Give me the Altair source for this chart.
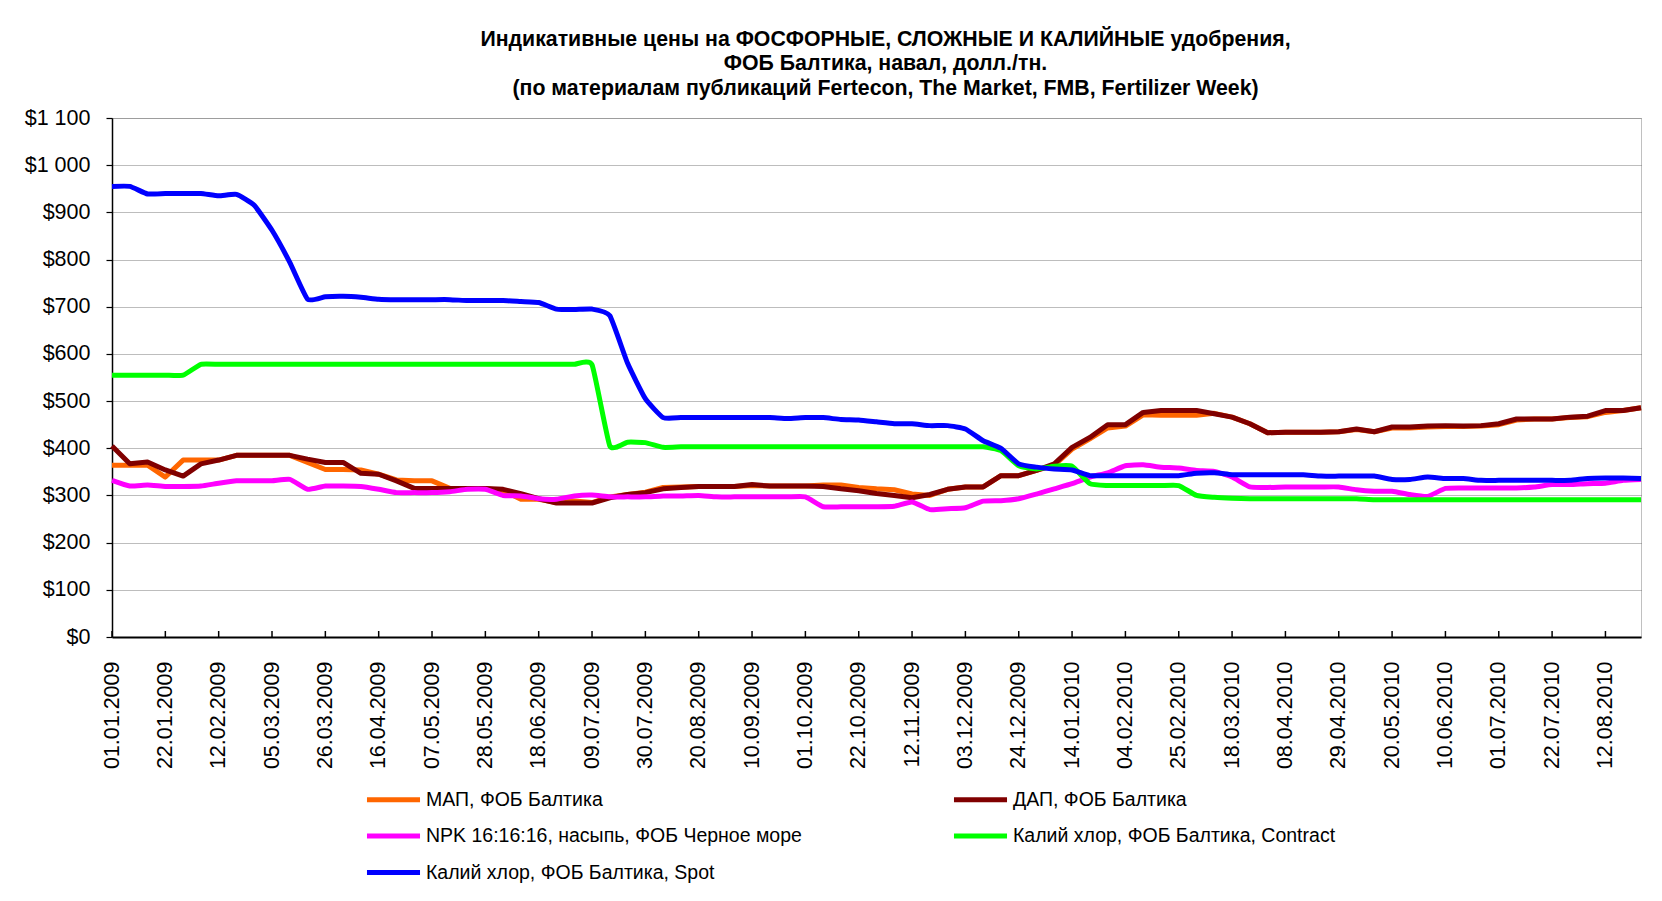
import altair as alt
import pandas as pd

# ---------------- data ----------------
series_names = [
    "МАП, ФОБ Балтика",
    "ДАП, ФОБ Балтика",
    "NPK 16:16:16, насыпь, ФОБ Черное море",
    "Калий хлор, ФОБ Балтика, Contract",
    "Калий хлор, ФОБ Балтика, Spot",
]
series_colors = ["#FF6600", "#800000", "#FF00FF", "#00FF00", "#0000FF"]
# legend fills column by column: this order gives the reference's row layout
legend_order = [0, 2, 4, 1, 3]

tick_labels = [
    "01.01.2009", "22.01.2009", "12.02.2009", "05.03.2009", "26.03.2009",
    "16.04.2009", "07.05.2009", "28.05.2009", "18.06.2009", "09.07.2009",
    "30.07.2009", "20.08.2009", "10.09.2009", "01.10.2009", "22.10.2009",
    "12.11.2009", "03.12.2009", "24.12.2009", "14.01.2010", "04.02.2010",
    "25.02.2010", "18.03.2010", "08.04.2010", "29.04.2010", "20.05.2010",
    "10.06.2010", "01.07.2010", "22.07.2010", "12.08.2010",
]

# weekly categories 01.01.2009 .. 02.09.2010
dates = list(pd.date_range("2009-01-01", periods=87, freq="7D").strftime("%d.%m.%Y"))

map_vals = [
    364, 364, 364, 339, 375, 375, 375, 385, 385, 385,
    385, 370, 355, 355, 354, 345, 333, 331, 331, 315,
    315, 315, 310, 292, 292, 285, 288, 285, 297, 302,
    307, 317, 318, 319, 319, 319, 321, 320, 320, 320,
    322, 322, 317, 314, 312, 303, 300, 313, 318, 318,
    342, 342, 353, 364, 398, 420, 443, 447, 471, 470,
    470, 470, 474, 466, 452, 433, 434, 434, 434, 435,
    440, 435, 443, 443, 445, 446, 446, 447, 450, 460,
    462, 462, 465, 467, 476, 480, 486,
]
dap_vals = [
    405, 367, 371, 354, 341, 367, 375, 385, 385, 385,
    385, 377, 370, 370, 347, 345, 331, 315, 315, 315,
    315, 315, 313, 304, 293, 284, 284, 284, 295, 302,
    306, 314, 317, 319, 319, 319, 323, 320, 320, 320,
    319, 314, 310, 304, 300, 295, 302, 313, 318, 318,
    342, 342, 353, 367, 402, 423, 450, 450, 476, 480,
    480, 480, 473, 466, 452, 433, 434, 434, 434, 435,
    441, 435, 445, 445, 447, 448, 447, 448, 452, 462,
    462, 462, 466, 468, 480, 480, 486,
]
npk_vals = [
    332, 320, 322, 319, 319, 320, 326, 331, 331, 331,
    334, 313, 320, 320, 319, 313, 306, 306, 306, 308,
    313, 313, 300, 299, 293, 292, 299, 301, 297, 297,
    297, 299, 299, 300, 297, 297, 297, 297, 297, 297,
    276, 276, 276, 276, 277, 286, 270, 272, 274, 288,
    289, 293, 303, 314, 325, 339, 348, 363, 365, 360,
    358, 353, 351, 339, 318, 317, 318, 318, 318, 318,
    312, 309, 309, 302, 298, 315, 316, 316, 316, 316,
    318, 323, 323, 325, 326, 332, 334,
]
contract_vals = [
    555, 555, 555, 555, 555, 578, 578, 578, 578, 578,
    578, 578, 578, 578, 578, 578, 578, 578, 578, 578,
    578, 578, 578, 578, 578, 578, 578, 577, 405, 413,
    412, 402, 403, 403, 403, 403, 403, 403, 403, 403,
    403, 403, 403, 403, 403, 403, 403, 403, 403, 403,
    395, 363, 356, 362, 362, 325, 321, 321, 321, 321,
    321, 300, 296, 294, 293, 293, 293, 293, 293, 293,
    293, 291, 291, 291, 291, 291, 291, 291, 291, 291,
    291, 291, 291, 291, 291, 291, 291,
]
spot_vals = [
    955, 955, 939, 940, 940, 940, 935, 938, 915, 862,
    794, 716, 721, 722, 720, 716, 715, 715, 715, 715,
    713, 713, 713, 711, 709, 695, 694, 695, 681, 580,
    505, 465, 465, 465, 465, 465, 465, 465, 463, 465,
    465, 461, 460, 456, 452, 452, 448, 448, 441, 416,
    400, 367, 360, 356, 354, 342, 342, 342, 342, 342,
    342, 347, 348, 344, 344, 344, 344, 344, 341, 341,
    341, 341, 334, 334, 339, 336, 336, 332, 332, 332,
    332, 332, 332, 336, 337, 337, 336,
]

y_ticks = [0, 100, 200, 300, 400, 500, 600, 700, 800, 900, 1000, 1100]

title_lines = [
    "Индикативные цены на ФОСФОРНЫЕ, СЛОЖНЫЕ И КАЛИЙНЫЕ удобрения,",
    "ФОБ Балтика, навал, долл./тн.",
    "(по материалам публикаций Fertecon, The Market, FMB, Fertilizer Week)",
]

all_vals = [map_vals, dap_vals, npk_vals, contract_vals, spot_vals]
rows = []
for name, vals in zip(series_names, all_vals):
    for d, v in zip(dates, vals):
        rows.append({"date": d, "series": name, "value": v})
df = pd.DataFrame(rows)
ticks_df = pd.DataFrame({"date": tick_labels})

# ---------------- chart ----------------
W, H = 1529, 519
FONT = "Liberation Sans"

x_enc = alt.X(
    "date:O",
    scale=alt.Scale(type="point", domain=dates, padding=0),
    axis=alt.Axis(
        values=tick_labels,
        labelAngle=270,
        labelAlign="right",
        labelBaseline="middle",
        labelFontSize=21.5,
        labelPadding=24,
        labelColor="black",
        ticks=False,
        domainColor="black",
        domainWidth=2,
        grid=False,
        labelOverlap=False,
    ),
    title=None,
)
y_enc = alt.Y(
    "value:Q",
    scale=alt.Scale(domain=[0, 1100], nice=False, zero=True),
    axis=alt.Axis(
        values=y_ticks,
        labelExpr="'$' + replace(format(datum.value, ','), ',', ' ')",
        labelFontSize=21.5,
        labelPadding=16,
        labelColor="black",
        tickSize=6,
        tickColor="black",
        tickWidth=1.2,
        domainColor="black",
        domainWidth=1.5,
        grid=True,
        gridColor="#7a7a7a",
        gridDash=[1, 1],
        gridWidth=1,
    ),
    title=None,
)
color_enc = alt.Color(
    "series:N",
    scale=alt.Scale(
        domain=[series_names[k] for k in legend_order],
        range=[series_colors[k] for k in legend_order],
    ),
    legend=alt.Legend(
        title=None,
        orient="none",
        legendX=252,
        legendY=668,
        columns=2,
        columnPadding=141,
        rowPadding=12.5,
        symbolType="M-2.5,0H2.5",
        symbolSize=450,
        symbolStrokeWidth=5,
        symbolOffset=16,
        labelFontSize=19.5,
        labelOffset=19,
        labelLimit=600,
        labelColor="black",
    ),
)

base = alt.Chart(df)
layers = []
for name in series_names:
    if name.startswith(("МАП", "ДАП")):
        mark = base.mark_line(strokeWidth=5, interpolate="linear", strokeJoin="round")
    else:
        mark = base.mark_line(strokeWidth=5, interpolate="cardinal", tension=0.55, strokeJoin="round")
    layers.append(
        mark.transform_filter(alt.datum.series == name).encode(x=x_enc, y=y_enc, color=color_enc)
    )

tick_marks = alt.Chart(ticks_df).mark_rule(color="black", strokeWidth=1.5).encode(
    x=x_enc,
    y=alt.value(H),
    y2=alt.value(H - 6),
)

chart = (
    alt.layer(*layers, tick_marks)
    .properties(
        width=W,
        height=H,
        title=alt.TitleParams(
            text=title_lines,
            fontSize=21.3,
            fontWeight="bold",
            font=FONT,
            color="black",
            anchor="middle",
            lineHeight=24.5,
            offset=8,
            dx=9,
        ),
        autosize=alt.AutoSizeParams(type="none"),
        padding={"left": 104, "top": 110, "right": 10, "bottom": 255},
    )
    .configure(font=FONT)
    .configure_view(stroke="#c0c0c0", strokeWidth=1)
    .configure_axis(labelFont=FONT)
    .configure_legend(labelFont=FONT)
)

chart.save("out.html", embed_options={"renderer": "svg", "actions": False})
